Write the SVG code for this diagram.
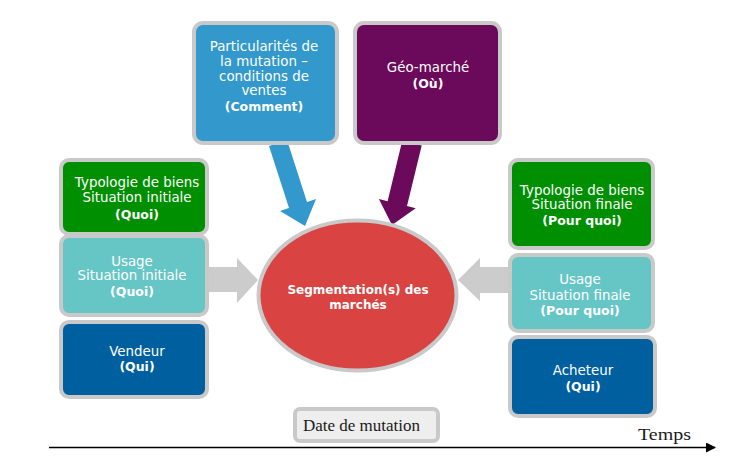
<svg xmlns="http://www.w3.org/2000/svg" width="737" height="474" viewBox="0 0 737 474">
<style>
.box{stroke:#C9C9C9;stroke-width:4}
.t{font-family:"DejaVu Sans",sans-serif;font-size:13.4px;fill:#ffffff;text-anchor:middle}
.b{font-weight:bold;font-size:12.5px}
.s{font-size:12px}
.serif{font-family:"Liberation Serif",serif;fill:#1a1a1a}
.garrow{fill:#CCCCCC}
</style>
<defs>
<marker id="ah" markerWidth="10" markerHeight="10" refX="9" refY="5" orient="auto" markerUnits="userSpaceOnUse">
<path d="M0,0 L10,5 L0,10 Z" fill="#000"/>
</marker>
</defs>
<rect width="737" height="474" fill="#ffffff"/>
<g id="connectors">
<polygon points="287,140 307,202 316,199 305,226 280,211 289,208 269,146" fill="#3399CC"/>
<polygon points="421.7,145.4 407,206.1 415.7,208.3 392,225 378.9,199.1 387.6,201.3 402.3,140.6" fill="#6B0A5A"/>
<polygon class="garrow" points="205,267 237,267 237,258 258,280 237,303 237,292 205,292"/>
<polygon class="garrow" points="512,267 480,267 480,258 458,280 480,301 480,293 512,293"/>
<line x1="49" y1="447.5" x2="715" y2="447.5" stroke="#000" stroke-width="1.5" marker-end="url(#ah)"/>
</g>
<g id="n-particularites">
<rect class="box" x="194" y="23" width="143" height="120" rx="9" fill="#3399CC"/>
<text class="t" x="264" y="51">Particularités de</text>
<text class="t" x="264" y="66">la mutation –</text>
<text class="t" x="264" y="81">conditions de</text>
<text class="t" x="264" y="95">ventes</text>
<text class="t b" x="264" y="111">(Comment)</text>
</g>
<g id="n-geo">
<rect class="box" x="355" y="23" width="145" height="120" rx="9" fill="#6B0A5A"/>
<text class="t" x="428" y="72">Géo-marché</text>
<text class="t b" x="428" y="88">(Où)</text>
</g>
<g id="n-typo-init">
<rect class="box" x="61" y="160" width="146" height="74" rx="8" fill="#008F00"/>
<text class="t" x="137" y="187">Typologie de biens</text>
<text class="t" x="137" y="202">Situation initiale</text>
<text class="t b" x="137" y="219">(Quoi)</text>
</g>
<g id="n-usage-init">
<rect class="box" x="61" y="236" width="146" height="79" rx="8" fill="#66C6C6"/>
<text class="t" x="132" y="266">Usage</text>
<text class="t" x="132" y="280">Situation initiale</text>
<text class="t b" x="132" y="296">(Quoi)</text>
</g>
<g id="n-vendeur">
<rect class="box" x="61" y="322" width="146" height="75" rx="8" fill="#005F9E"/>
<text class="t" x="137" y="356">Vendeur</text>
<text class="t b" x="137" y="371">(Qui)</text>
</g>
<g id="n-typo-final">
<rect class="box" x="510" y="160" width="143" height="88" rx="8" fill="#008F00"/>
<text class="t" x="582" y="195">Typologie de biens</text>
<text class="t" x="582" y="209">Situation finale</text>
<text class="t b" x="582" y="225">(Pour quoi)</text>
</g>
<g id="n-usage-final">
<rect class="box" x="510" y="255" width="143" height="76" rx="8" fill="#66C6C6"/>
<text class="t" x="580" y="284">Usage</text>
<text class="t" x="580" y="300">Situation finale</text>
<text class="t b" x="580" y="315">(Pour quoi)</text>
</g>
<g id="n-acheteur">
<rect class="box" x="510" y="337" width="145" height="79" rx="8" fill="#005F9E"/>
<text class="t" x="583" y="375">Acheteur</text>
<text class="t b" x="583" y="391">(Qui)</text>
</g>
<g id="n-segmentation">
<ellipse cx="357.5" cy="295.5" rx="99" ry="75" fill="#D94442" stroke="#C9C9C9" stroke-width="4"/>
<text class="t b s" x="358" y="294">Segmentation(s) des</text>
<text class="t b s" x="358" y="309">marchés</text>
</g>
<g id="n-date">
<rect x="295" y="409" width="143" height="32" rx="5" fill="#EEEEEE" stroke="#C9C9C9" stroke-width="4"/>
<text class="serif" x="303" y="431" font-size="16" textLength="117" lengthAdjust="spacingAndGlyphs">Date de mutation</text>
</g>
<text class="serif" x="638" y="440" font-size="17.5" textLength="53" lengthAdjust="spacingAndGlyphs">Temps</text>
</svg>
